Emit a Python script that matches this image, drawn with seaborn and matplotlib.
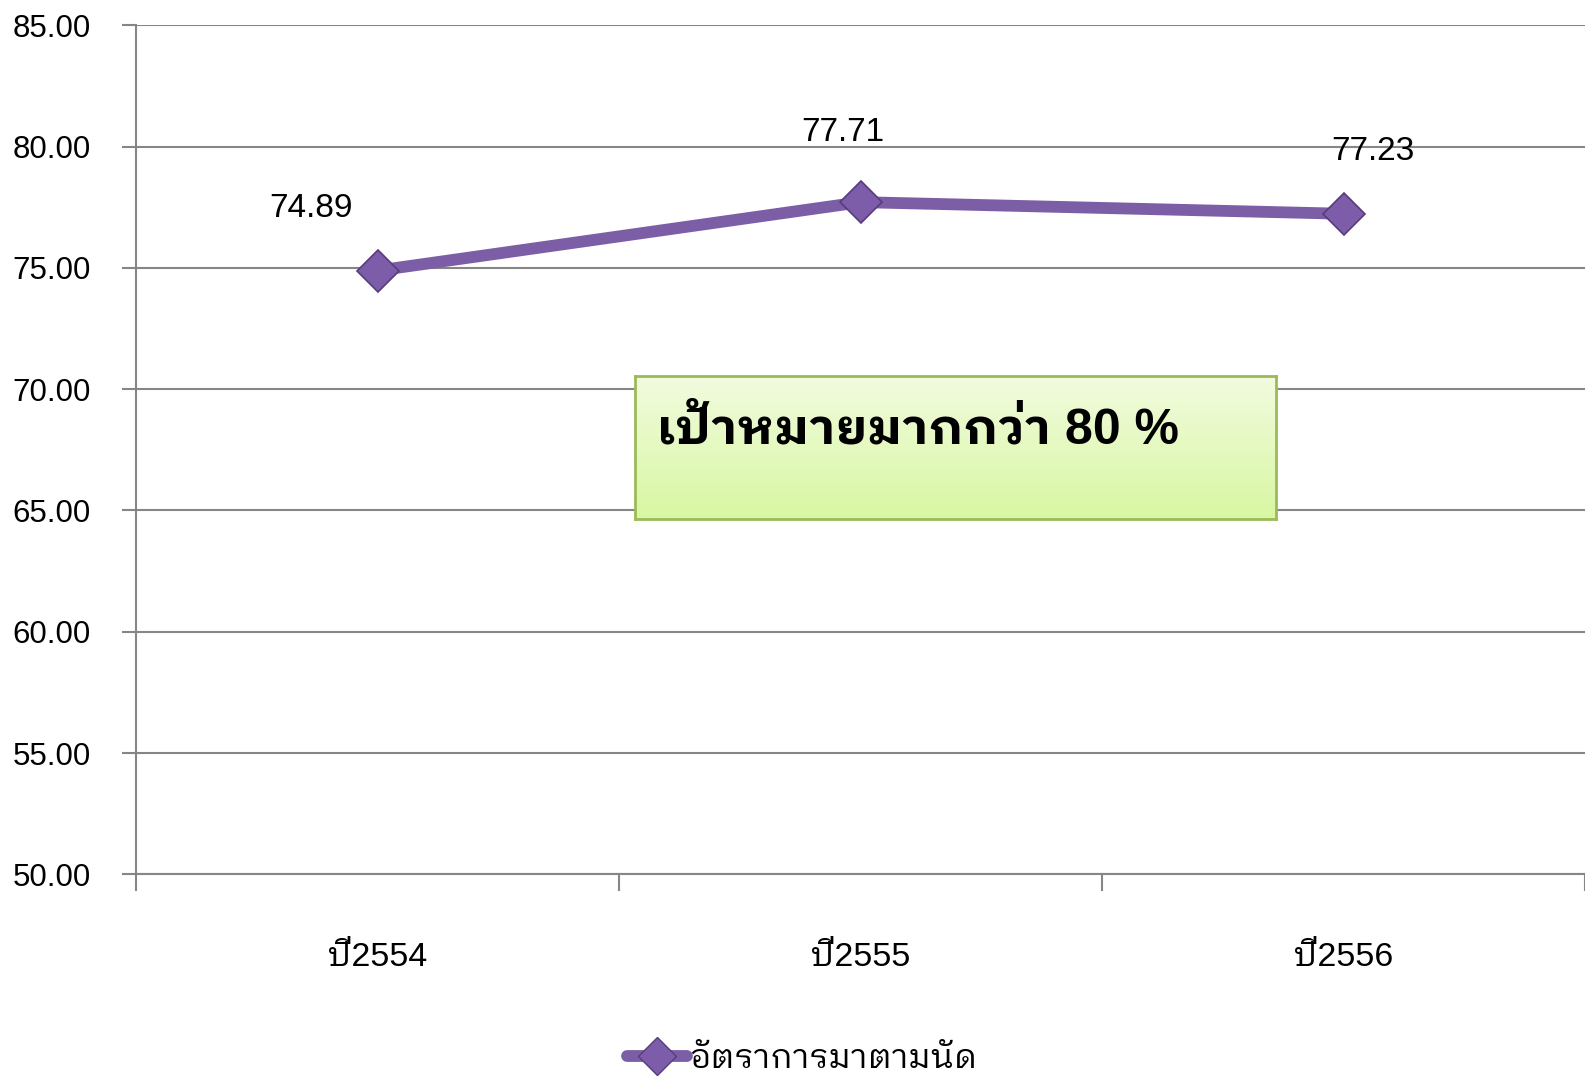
import matplotlib
matplotlib.use("Agg")
import numpy as np
import pandas as pd
import matplotlib.pyplot as plt
import seaborn as sns
from matplotlib.colors import LinearSegmentedColormap
from matplotlib.lines import Line2D

years = ['ปี2554', 'ปี2555', 'ปี2556']
rates = [74.89, 77.71, 77.23]
series_name = 'อัตราการมาตามนัด'
target_text = 'เป้าหมายมากกว่า 80 %'
y_ticks = [50, 55, 60, 65, 70, 75, 80, 85]

sns.set_style("white")
plt.rcParams['font.family'] = ['Liberation Sans', 'IBM Plex Sans Thai Looped']
plt.rcParams['text.color'] = 'black'
plt.rcParams['xtick.labelcolor'] = 'black'
plt.rcParams['ytick.labelcolor'] = 'black'

LINE_COLOR = '#7b5ea6'
GRID_COLOR = '#868686'

df = pd.DataFrame({'year': years, 'rate': rates})

fig = plt.figure(figsize=(15.85, 10.79), dpi=100)
ax = fig.add_axes([0.0861, 0.1896, 1.0 - 0.0861, 0.9766 - 0.1896])

sns.lineplot(data=df, x='year', y='rate', ax=ax, color=LINE_COLOR, linewidth=8.5,
             marker='D', markersize=21, markerfacecolor='#7d5ca9',
             markeredgecolor='#563c7c', markeredgewidth=1.2, legend=False, zorder=5)

ax.set_xlim(-0.5, 2.49)
ax.set_ylim(50, 85)
ax.set_yticks(y_ticks)
ax.set_yticklabels([f"{v:.2f}" for v in y_ticks], fontsize=22.5)
ax.set_xlabel('')
ax.set_ylabel('')

# categories centred between boundary ticks
ax.set_xticks([-0.5, 0.5, 1.5, 2.5], minor=False)
ax.set_xticklabels([])
ax.set_xticks(range(len(years)), minor=True)
ax.set_xticklabels(years, minor=True, fontsize=24.5)
ax.tick_params(axis='x', which='major', length=12, width=1.5, color=GRID_COLOR, direction='out', bottom=True)
ax.tick_params(axis='x', which='minor', length=0, pad=49)
ax.tick_params(axis='y', length=10, width=1.5, color=GRID_COLOR, direction='out', left=True, pad=23)

ax.yaxis.grid(True, color=GRID_COLOR, linewidth=1.5)
ax.xaxis.grid(False)
for side in ['top', 'right']:
    ax.spines[side].set_visible(False)
for side in ['left', 'bottom']:
    ax.spines[side].set_color(GRID_COLOR)
    ax.spines[side].set_linewidth(1.5)

# value labels
offsets = [(-48, 45), (-13, 50), (21, 45)]
for i, (v, off) in enumerate(zip(rates, offsets)):
    ax.annotate(f"{v:.2f}", xy=(i, v), xytext=off,
                textcoords='offset points', ha='center', va='center', fontsize=24)

# target box with gradient
box = fig.add_axes([0.4006, 0.519, 0.4044, 0.1325])
grad = np.linspace(0, 1, 256).reshape(-1, 1)
cmap = LinearSegmentedColormap.from_list('g', ['#f2fbdf', '#d8f7a2'])
box.imshow(grad, aspect='auto', cmap=cmap, extent=[0, 1, 0, 1], origin='upper')
box.set_xticks([])
box.set_yticks([])
for s in box.spines.values():
    s.set_color('#9bbb59')
    s.set_linewidth(2)
box.text(0.035, 0.62, target_text, transform=box.transAxes, fontsize=36,
         fontweight='bold', ha='left', va='center')

handle = Line2D([], [], color=LINE_COLOR, linewidth=8.5, marker='D', markersize=19,
                markerfacecolor='#7d5ca9', markeredgecolor='#563c7c')
fig.legend([handle], [series_name], loc='center', bbox_to_anchor=(0.506, 0.018),
           frameon=False, fontsize=24, handlelength=1.8, handletextpad=0.05)

fig.savefig('out.png', dpi=100)
